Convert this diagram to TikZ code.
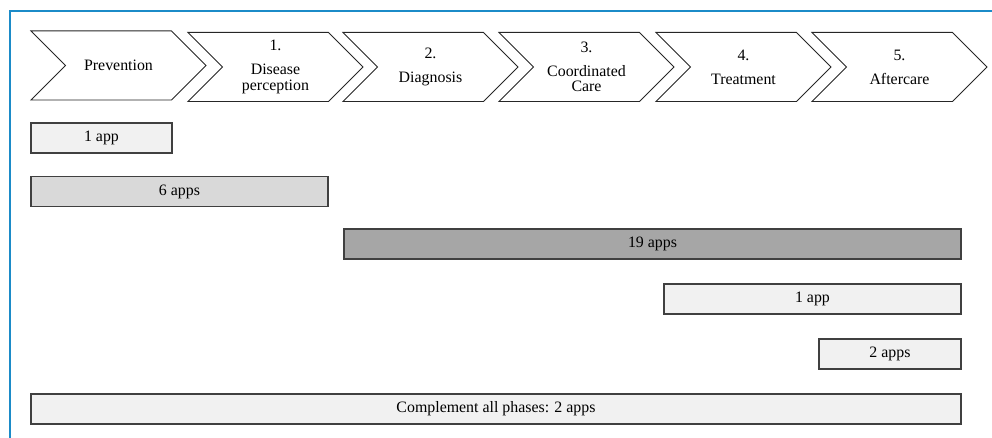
\documentclass[tikz,border=0pt]{standalone}
\usepackage{fontspec}
\setmainfont{Liberation Serif}
\newfontfamily\chartfont{Liberation Serif}
\usepackage{xcolor}
\usetikzlibrary{shapes.symbols}
\usetikzlibrary{positioning}

\definecolor{frameblue}{HTML}{1B8BC8}
\definecolor{barlight}{HTML}{F1F1F1}
\definecolor{barmid}{HTML}{D9D9D9}
\definecolor{bardark}{HTML}{A6A6A6}

\begin{document}
\begin{tikzpicture}[
  x=0.025cm, y=-0.025cm,
  every node/.style={font=\chartfont\fontsize{11.3}{11}\selectfont, align=center},
  phase/.style={signal, signal from=west, signal to=east, signal pointer angle=90,
    draw=black!85, line width=0.7pt, minimum width=4.375cm, minimum height=1.725cm, inner sep=0pt},
  bar/.style={draw=black!75, line width=1pt, minimum height=0.75cm, inner sep=0pt},
]
\useasboundingbox (0,0) rectangle (992,438);

  % Frame
  \draw[frameblue, line width=1.8pt] (10,438) -- (10,11) -- (992,11);

  % Phases
  \node[phase] (prev)  at (118.5, 65.5) {Prevention};
  \node[phase] (perc)  at (275.5, 67) {1.\\[6pt]Disease\\perception};
  \node[phase] (diag)  at (430.5, 67) {2.\\[6pt]Diagnosis};
  \node[phase] (care)  at (586.5, 67) {3.\\[6pt]Coordinated\\Care};
  \node[phase] (treat) at (743.5, 67) {4.\\[6pt]Treatment};
  \node[phase] (after) at (899.5, 67) {5.\\[6pt]Aftercare};

  % Apps
  \node[bar, fill=barlight, minimum width=3.525cm] (prevapp) at (101.5, 138) {1 app};
  \node[bar, fill=barmid, minimum width=7.425cm] (percapp) at (179.5, 191.5) {6 apps};
  \node[bar, fill=bardark, minimum width=15.425cm] (diagapp) at (652.5, 244) {19 apps};
  \node[bar, fill=barlight, minimum width=7.425cm] (treatapp) at (812.5, 299) {1 app};
  \node[bar, fill=barlight, minimum width=3.55cm] (afterapp) at (890, 354) {2 apps};
  \node[bar, fill=barlight, minimum width=23.25cm] (allapp) at (496, 409) {Complement all phases: 2 apps};

\end{tikzpicture}
\end{document}
